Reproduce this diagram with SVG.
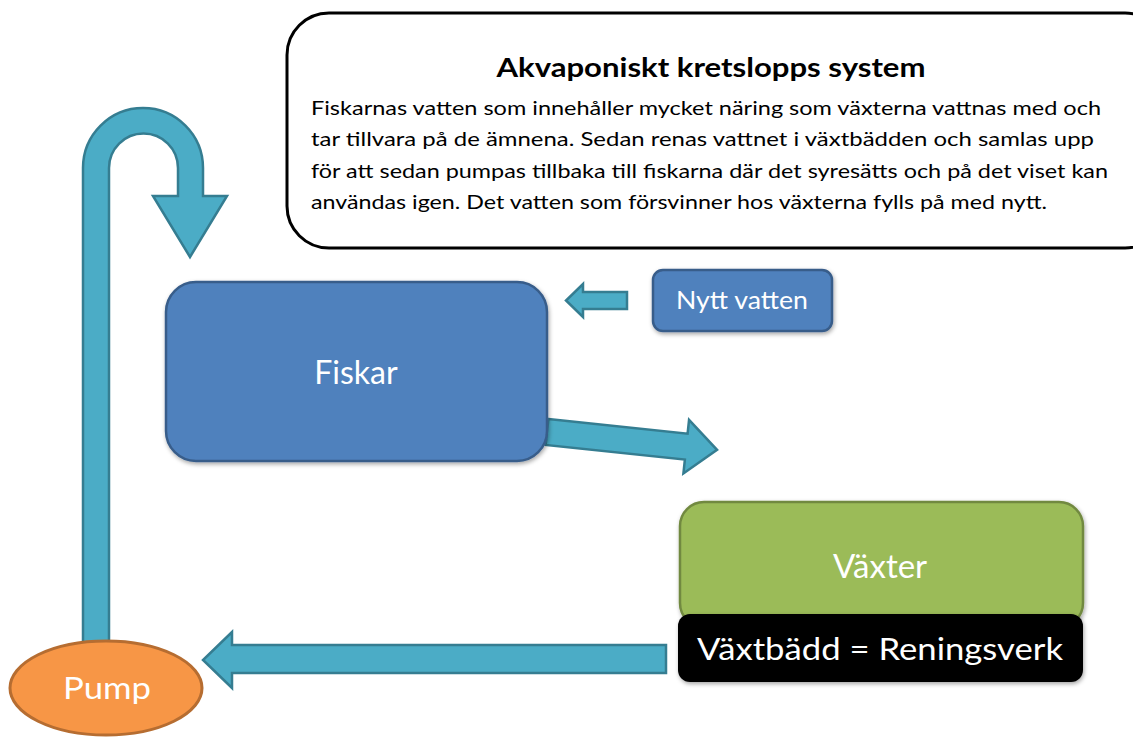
<svg xmlns="http://www.w3.org/2000/svg" width="1133" height="737" viewBox="0 0 1133 737">
<defs>
<style>
.arrow{fill:#4BACC6;stroke:#357D91;stroke-width:2.5;stroke-linejoin:miter}
.lbl{font-family:Lato,"Open Sans",sans-serif;fill:#fff;text-anchor:middle}
.body{font-family:Lato,"Open Sans",sans-serif;font-size:19px;fill:#000}
</style>
<filter id="sh" x="-10%" y="-10%" width="120%" height="130%">
<feDropShadow dx="1" dy="2" stdDeviation="2" flood-color="#000" flood-opacity="0.35"/>
</filter>
</defs>
<rect width="1133" height="737" fill="#fff"/>

<g id="info">
<rect x="287" y="13" width="880" height="235" rx="42" ry="42" fill="#fff" stroke="#000" stroke-width="3"/>
<text x="711" y="77" font-family="Lato,'Open Sans',sans-serif" font-size="27" font-weight="bold" text-anchor="middle" textLength="429" lengthAdjust="spacingAndGlyphs">Akvaponiskt kretslopps system</text>
<text class="body" x="311" y="115" textLength="790" lengthAdjust="spacingAndGlyphs">Fiskarnas vatten som innehåller mycket näring som växterna vattnas med och</text>
<text class="body" x="311" y="146" textLength="783" lengthAdjust="spacingAndGlyphs">tar tillvara på de ämnena. Sedan renas vattnet i växtbädden och samlas upp</text>
<text class="body" x="311" y="178" textLength="797" lengthAdjust="spacingAndGlyphs">för att sedan pumpas tillbaka till fiskarna där det syresätts och på det viset kan</text>
<text class="body" x="311" y="209" textLength="736" lengthAdjust="spacingAndGlyphs">användas igen. Det vatten som försvinner hos växterna fylls på med nytt.</text>
</g>

<g id="connectors">
<path class="arrow" d="M83,645 L83,168 A60,60 0 0 1 203,168 L203,196 L227,196 L190,257 L153,196 L178,196 L178,168 A34.5,34.5 0 0 0 109,168 L109,645 Z"/>
<path class="arrow" d="M627,292 L627,309 L583,309 L583,317 L566,300.5 L583,284 L583,292 Z"/>
<path class="arrow" transform="translate(547,432) rotate(6)" d="M0,-13 L140,-13 L140,-27 L171,0 L140,27 L140,13 L0,13 Z"/>
<path class="arrow" d="M666,645 L666,673 L232,673 L232,688 L203,660 L232,632 L232,645 Z"/>
</g>

<g id="fiskar">
<rect x="166" y="282" width="381" height="179" rx="30" ry="30" fill="#4F81BD" stroke="#385D8A" stroke-width="2.5" filter="url(#sh)"/>
<text class="lbl" x="356" y="384" font-size="32">Fiskar</text>
</g>

<g id="nytt-vatten">
<rect x="653" y="270" width="179" height="61" rx="10" ry="10" fill="#4F81BD" stroke="#385D8A" stroke-width="2.5" filter="url(#sh)"/>
<text class="lbl" x="742" y="309" font-size="25" textLength="132" lengthAdjust="spacingAndGlyphs">Nytt vatten</text>
</g>

<g id="vaxter">
<rect x="680" y="502" width="403" height="125" rx="24" ry="24" fill="#9BBB59" stroke="#71893F" stroke-width="2.5" filter="url(#sh)"/>
<text class="lbl" x="880" y="578" font-size="33">Växter</text>
</g>

<g id="vaxtbadd">
<rect x="678" y="614" width="405" height="68" rx="12" ry="12" fill="#000" filter="url(#sh)"/>
<text class="lbl" x="880" y="660" font-size="30" textLength="366" lengthAdjust="spacingAndGlyphs">Växtbädd = Reningsverk</text>
</g>

<g id="pump">
<ellipse cx="106" cy="688" rx="96" ry="47" fill="#F79646" stroke="#B66D31" stroke-width="3"/>
<text class="lbl" x="107" y="699" font-size="31" textLength="88" lengthAdjust="spacingAndGlyphs">Pump</text>
</g>
</svg>
